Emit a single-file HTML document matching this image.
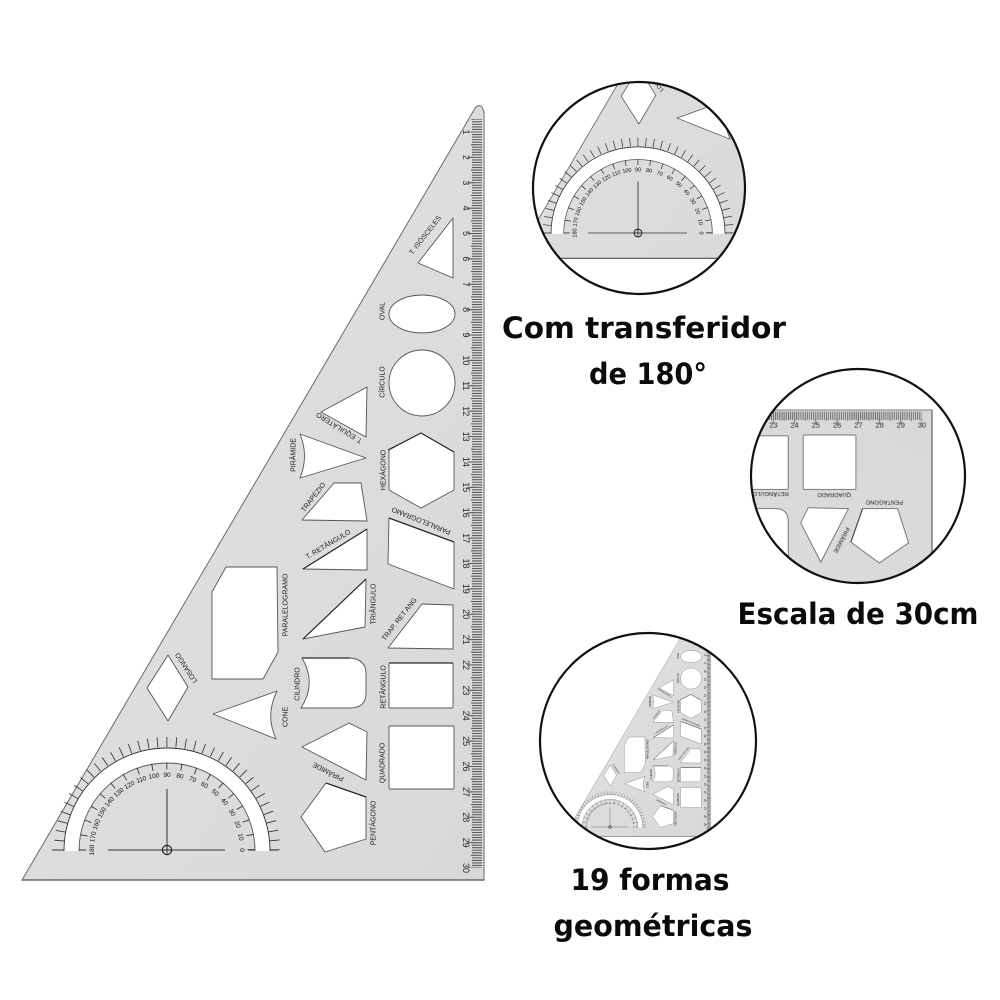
<!DOCTYPE html>
<html lang="pt">
<head>
<meta charset="utf-8">
<title>Régua triangular</title>
<style>
html,body{margin:0;padding:0;background:#fff}
svg{display:block}
.l{font:7px "Liberation Sans",sans-serif;fill:#1c1c1c;text-anchor:middle}
.n{font:9px "Liberation Sans",sans-serif;fill:#2a2a2a;text-anchor:middle}
.p{font:6.5px "Liberation Sans",sans-serif;fill:#111;text-anchor:middle}
.h{fill:#fff;stroke:#555;stroke-width:.9;stroke-linejoin:round}
.d{fill:none;stroke:#111;stroke-width:2.2}
.c{font-family:"DejaVu Sans",sans-serif;font-weight:700;fill:#0b0b0b;text-anchor:middle}
</style>
</head>
<body>
<svg xmlns="http://www.w3.org/2000/svg" width="1000" height="1000" viewBox="0 0 1000 1000">
<defs>
<linearGradient id="g" x1="0" y1="0" x2="1" y2="1">
<stop offset="0" stop-color="#e2e2e2"/><stop offset=".6" stop-color="#dcdcdc"/><stop offset="1" stop-color="#d8d8d8"/>
</linearGradient>
<filter id="b" x="-2%" y="-2%" width="104%" height="104%" color-interpolation-filters="sRGB"><feGaussianBlur stdDeviation=".3"/></filter>
<clipPath id="c1"><circle cx="639" cy="188" r="106"/></clipPath>
<clipPath id="c2"><circle cx="858" cy="476" r="107"/></clipPath>
<clipPath id="c3"><circle cx="648" cy="741" r="108"/></clipPath>

<g id="ruler" filter="url(#b)">
<path d="M22,880 L474,110 Q478,103 482,107 L484,112 L484,880 Z" fill="url(#g)" stroke="#6a6a6a" stroke-width="1"/>
<path d="M22,880 H484" stroke="#666" stroke-width="1.4" fill="none"/>

<!-- ruler ticks -->
<g fill="none" stroke="#5c5c5c">
<path d="M477,119.31 V868" stroke-width="10" stroke-dasharray="1.1 1.438" stroke-dashoffset=".55"/>
<path d="M472.5,119.31 V868" stroke-width="3" stroke-dasharray="1 11.69" stroke-dashoffset=".5"/>
<path d="M470,132 V868" stroke-width="5" stroke-dasharray="1 24.38" stroke-dashoffset=".5"/>
</g>
<g class="n">
<text class="n" transform="rotate(90 466 132)" x="466" y="135">1</text>
<text class="n" transform="rotate(90 466 157.4)" x="466" y="160.4">2</text>
<text class="n" transform="rotate(90 466 182.8)" x="466" y="185.8">3</text>
<text class="n" transform="rotate(90 466 208.1)" x="466" y="211.1">4</text>
<text class="n" transform="rotate(90 466 233.5)" x="466" y="236.5">5</text>
<text class="n" transform="rotate(90 466 258.9)" x="466" y="261.9">6</text>
<text class="n" transform="rotate(90 466 284.3)" x="466" y="287.3">7</text>
<text class="n" transform="rotate(90 466 309.7)" x="466" y="312.7">8</text>
<text class="n" transform="rotate(90 466 335)" x="466" y="338">9</text>
<text class="n" transform="rotate(90 466 360.4)" x="466" y="363.4">10</text>
<text class="n" transform="rotate(90 466 385.8)" x="466" y="388.8">11</text>
<text class="n" transform="rotate(90 466 411.2)" x="466" y="414.2">12</text>
<text class="n" transform="rotate(90 466 436.6)" x="466" y="439.6">13</text>
<text class="n" transform="rotate(90 466 461.9)" x="466" y="464.9">14</text>
<text class="n" transform="rotate(90 466 487.3)" x="466" y="490.3">15</text>
<text class="n" transform="rotate(90 466 512.7)" x="466" y="515.7">16</text>
<text class="n" transform="rotate(90 466 538.1)" x="466" y="541.1">17</text>
<text class="n" transform="rotate(90 466 563.5)" x="466" y="566.5">18</text>
<text class="n" transform="rotate(90 466 588.8)" x="466" y="591.8">19</text>
<text class="n" transform="rotate(90 466 614.2)" x="466" y="617.2">20</text>
<text class="n" transform="rotate(90 466 639.6)" x="466" y="642.6">21</text>
<text class="n" transform="rotate(90 466 665)" x="466" y="668">22</text>
<text class="n" transform="rotate(90 466 690.4)" x="466" y="693.4">23</text>
<text class="n" transform="rotate(90 466 715.7)" x="466" y="718.7">24</text>
<text class="n" transform="rotate(90 466 741.1)" x="466" y="744.1">25</text>
<text class="n" transform="rotate(90 466 766.5)" x="466" y="769.5">26</text>
<text class="n" transform="rotate(90 466 791.9)" x="466" y="794.9">27</text>
<text class="n" transform="rotate(90 466 817.3)" x="466" y="820.3">28</text>
<text class="n" transform="rotate(90 466 842.6)" x="466" y="845.6">29</text>
<text class="n" transform="rotate(90 466 868)" x="466" y="871">30</text>
</g>

<!-- holes -->
<path class="h" d="M453,218 L418,263 L453,278 Z"/>
<ellipse class="h" cx="422" cy="314" rx="33" ry="19"/>
<circle class="h" cx="422" cy="383" r="33"/>
<path class="h" d="M367,387 L321,412 L366,437 Z"/>
<path class="h" d="M300,434 L366,458 L300,478 Q309,456 300,434 Z"/>
<path class="h" d="M421,433 L454,452 V490 L421,508 L389,490 V450 Z"/>
<path class="h" d="M334,483 H361 L367,521 L302,520 Z"/>
<path class="h" d="M367,529 V570 L303,569 Z"/>
<path class="h" d="M389,518 L454,542 V589 L388,564 Z"/>
<path class="h" d="M366,579 L365,627 L303,639 Z"/>
<path class="h" d="M422,604 L453,605 V649 L388,648 Z"/>
<path class="h" d="M302,658 H350 Q366,659 366,674 V693 Q366,708 350,708 H301 Q317,683 302,658 Z"/>
<rect class="h" x="389" y="663" width="64" height="45" rx="1"/>
<path class="h" d="M349,723 L367,732 L366,780 L302,747 Z"/>
<rect class="h" x="389" y="726" width="65" height="63" rx="1"/>
<path class="h" d="M326,783 L366,797 V839 L325,852 L301,817 Z"/>
<path class="h" d="M226,567 H277 L278,652 L263,679 H212 V592 Z"/>
<path class="h" d="M168,655 L188,687 L168,721 L147,688 Z"/>
<path class="h" d="M277,691 L213,714 L276,739 Q265,715 277,691 Z"/>

<!-- darker hole edges -->
<g fill="none" stroke="#2a2a2a" stroke-width="1.2">
<path d="M389,518 L454,542"/>
<path d="M367,529 L303,569"/>
<path d="M302,658 H350"/>
<path d="M326,783 L366,797"/>
<path d="M388,450 L421,433 L454,452"/>
<path d="M366,579 L303,639"/>
<path d="M389,663 H453"/>
</g>

<!-- labels -->
<text class="l" transform="translate(425 235) rotate(-52)" y="2.5">T. ISÓSCELES</text>
<text class="l" transform="translate(382 311) rotate(-90)" y="2.5">OVAL</text>
<text class="l" transform="translate(382 382) rotate(-90)" y="2.5">CÍRCULO</text>
<text class="l" transform="translate(339 428) rotate(-148)" y="2.5">T. EQUILÁTERO</text>
<text class="l" transform="translate(293 455) rotate(-90)" y="2.5">PIRÂMIDE</text>
<text class="l" transform="translate(383 470) rotate(-90)" y="2.5">HEXÁGONO</text>
<text class="l" transform="translate(313 497) rotate(-52)" y="2.5">TRAPÉZIO</text>
<text class="l" transform="translate(328 544) rotate(-31)" y="2.5">T. RETÂNGULO</text>
<text class="l" transform="translate(421 521) rotate(202)" y="2.5">PARALELOGRAMO</text>
<text class="l" transform="translate(285 605) rotate(-90)" y="2.5">PARALELOGRAMO</text>
<text class="l" transform="translate(373 604) rotate(-90)" y="2.5">TRIÂNGULO</text>
<text class="l" transform="translate(399 619) rotate(-52)" y="2.5">TRAP. RET ANG</text>
<text class="l" transform="translate(297 684) rotate(-90)" y="2.5">CILINDRO</text>
<text class="l" transform="translate(383 687) rotate(-90)" y="2.5">RETÂNGULO</text>
<text class="l" transform="translate(285 717) rotate(-90)" y="2.5">CONE</text>
<text class="l" transform="translate(382 763) rotate(-90)" y="2.5">QUADRADO</text>
<text class="l" transform="translate(328 772) rotate(207)" y="2.5">PIRÂMIDE</text>
<text class="l" transform="translate(373 823) rotate(-90)" y="2.5">PENTÁGONO</text>
<text class="l" transform="translate(186 668) rotate(-123)" y="2.5">LOSANGO</text>

<!-- protractor -->
<path d="M64,851 A103,103 0 0 1 270,851 H255 A88,88 0 0 0 79,851 Z" fill="#fff"/>
<path d="M64,851 A103,103 0 0 1 270,851" fill="none" stroke="#333" stroke-width=".9"/>
<path d="M79,851 A88,88 0 0 1 255,851" fill="none" stroke="#555" stroke-width=".9"/>
<path d="M59,850 A108,108 0 0 1 275,850" fill="none" stroke="#333" stroke-width="10" pathLength="180" stroke-dasharray=".45 4.55" stroke-dashoffset=".225"/>
<path d="M83,850 A84,84 0 0 1 251,850" fill="none" stroke="#333" stroke-width="7" pathLength="180" stroke-dasharray=".6 9.4" stroke-dashoffset=".3"/>
<path d="M52,850 H64 M270,850 H279 M79,850 H86 M248,850 H255" stroke="#333" stroke-width="1" fill="none"/>
<text class="p" transform="rotate(90 167 850)" x="167" y="777">0</text>
<text class="p" transform="rotate(80 167 850)" x="167" y="777">10</text>
<text class="p" transform="rotate(70 167 850)" x="167" y="777">20</text>
<text class="p" transform="rotate(60 167 850)" x="167" y="777">30</text>
<text class="p" transform="rotate(50 167 850)" x="167" y="777">40</text>
<text class="p" transform="rotate(40 167 850)" x="167" y="777">50</text>
<text class="p" transform="rotate(30 167 850)" x="167" y="777">60</text>
<text class="p" transform="rotate(20 167 850)" x="167" y="777">70</text>
<text class="p" transform="rotate(10 167 850)" x="167" y="777">80</text>
<text class="p" x="167" y="777">90</text>
<text class="p" transform="rotate(-10 167 850)" x="167" y="777">100</text>
<text class="p" transform="rotate(-20 167 850)" x="167" y="777">110</text>
<text class="p" transform="rotate(-30 167 850)" x="167" y="777">120</text>
<text class="p" transform="rotate(-40 167 850)" x="167" y="777">130</text>
<text class="p" transform="rotate(-50 167 850)" x="167" y="777">140</text>
<text class="p" transform="rotate(-60 167 850)" x="167" y="777">150</text>
<text class="p" transform="rotate(-70 167 850)" x="167" y="777">160</text>
<text class="p" transform="rotate(-80 167 850)" x="167" y="777">170</text>
<text class="p" transform="rotate(-90 167 850)" x="167" y="777">180</text>
<path d="M108,850 H225 M167,789 V850" stroke="#333" stroke-width="1" fill="none"/>
<circle cx="167" cy="850" r="4.6" fill="none" stroke="#222" stroke-width="1.2"/>
<path d="M162,850 H172 M167,845 V855" stroke="#222" stroke-width=".8" fill="none"/>
</g>
</defs>

<use href="#ruler"/>

<g clip-path="url(#c1)"><use href="#ruler" transform="matrix(.845 0 0 .845 496.9 -485.25)"/></g>
<circle class="d" cx="639" cy="188" r="106"/>

<g clip-path="url(#c2)"><use href="#ruler" transform="matrix(0 -.836 .836 0 196.3 814.6)"/></g>
<circle class="d" cx="858" cy="476" r="107"/>

<g clip-path="url(#c3)"><use href="#ruler" transform="matrix(.318 0 0 .318 556.9 556.7)"/></g>
<circle class="d" cx="648" cy="741" r="108"/>

<text class="c" font-size="29" x="644" y="338" textLength="284" lengthAdjust="spacingAndGlyphs">Com transferidor</text>
<text class="c" font-size="29" x="648" y="384" textLength="118" lengthAdjust="spacingAndGlyphs">de 180°</text>
<text class="c" font-size="29" x="858" y="624" textLength="241" lengthAdjust="spacingAndGlyphs">Escala de 30cm</text>
<text class="c" font-size="29" x="650" y="890" textLength="159" lengthAdjust="spacingAndGlyphs">19 formas</text>
<text class="c" font-size="29" x="653" y="936" textLength="199" lengthAdjust="spacingAndGlyphs">geométricas</text>
</svg>
</body>
</html>
